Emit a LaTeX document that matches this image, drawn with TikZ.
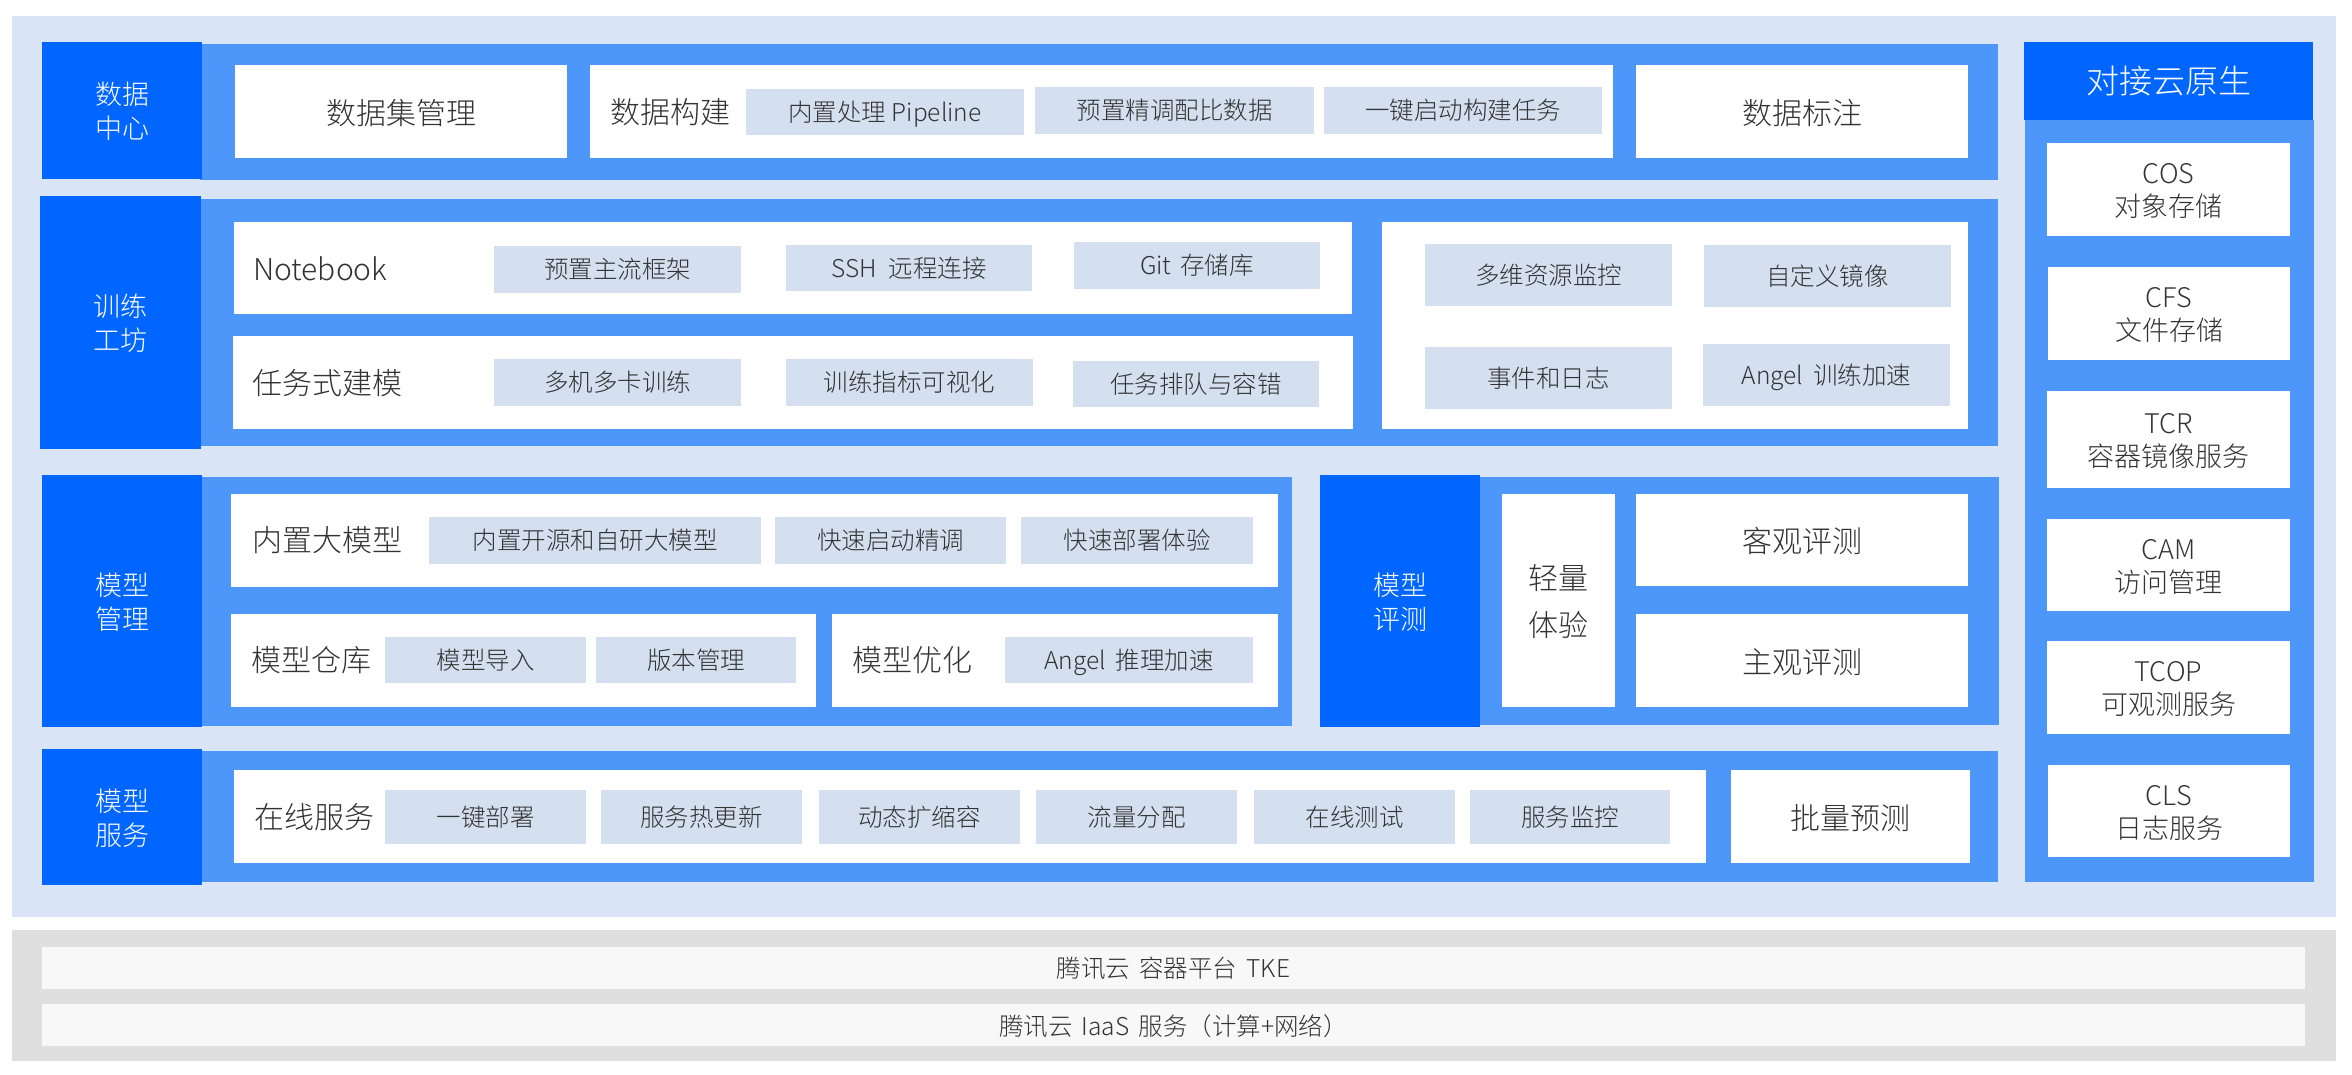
\documentclass[tikz,border=0pt]{standalone}
\usepackage{fontspec}
\setmainfont{Noto Sans CJK SC Light}
\definecolor{lightbg}{HTML}{D9E4F7}
\definecolor{band}{HTML}{4D97FA}
\definecolor{darkb}{HTML}{0066FF}
\definecolor{chipc}{HTML}{D4DFEF}
\definecolor{grayb}{HTML}{DFDFDF}
\definecolor{strip}{HTML}{F8F8F8}
\definecolor{ink}{HTML}{333333}
\newcommand{\fsz}[2]{\fontsize{#1}{#2}\selectfont}
\newcommand{\gapw}[1]{\hspace{#1pt}}
\tikzset{
  base/.style={inner sep=0pt,outer sep=0pt,draw=none},
  lightpanel/.style={base,fill=lightbg},
  bandpanel/.style={base,fill=band},
  headbox/.style={base,fill=darkb,text=white,font=\fsz{27}{34}},
  titlebox/.style={base,fill=darkb,text=white,font=\fsz{33}{38}},
  whitebox/.style={base,fill=white,text=ink,font=\fsz{30}{47}},
  sidebox/.style={base,fill=white,text=ink,font=\fsz{27}{33}},
  chipbox/.style={base,fill=chipc,text=ink,font=\fsz{24.5}{30}},
  graypanel/.style={base,fill=grayb},
  stripbox/.style={base,fill=strip,text=ink,font=\fsz{24.5}{30}},
  rowlabel/.style={base,anchor=west,text=ink,font=\fsz{30}{36}},
}
% \bx{style}{name}{x1}{y1}{x2}{y2}{drop}{text}
\newcommand{\bx}[8]{%
  \pgfmathsetmacro{\bxw}{#5-#3}\pgfmathsetmacro{\bxh}{#6-#4}%
  \pgfmathsetmacro{\bxx}{(#3+#5)/2}\pgfmathsetmacro{\bxy}{(#4+#6)/2}%
  \node[#1,minimum width=\bxw pt,minimum height=\bxh pt] (#2) at (\bxx,\bxy)
    {\raisebox{-#7pt}[\height][\depth]{\begin{tabular}{@{}c@{}}#8\end{tabular}}};}
\begin{document}
\begin{tikzpicture}[x=1pt,y=-1pt]
\useasboundingbox (0,0) rectangle (2352,1074);
\fill[white] (0,0) rectangle (2352,1074);
% panels
\bx{lightpanel}{outer}{12}{16}{2336}{917}{0}{}
\bx{graypanel}{grayouter}{12}{930}{2336}{1061}{0}{}
\bx{bandpanel}{band1}{200}{44}{1998}{180}{0}{}
\bx{bandpanel}{band2}{200}{199}{1998}{446}{0}{}
\bx{bandpanel}{band3a}{200}{477}{1292}{726}{0}{}
\bx{bandpanel}{band3b}{1480}{477}{1999}{725}{0}{}
\bx{bandpanel}{band4}{200}{751}{1998}{882}{0}{}
\bx{bandpanel}{bandside}{2025}{120}{2314}{882}{0}{}
% heads
\bx{headbox}{hdata}{42}{42}{202}{179}{4.5}{数据\\中心}
\bx{headbox}{htrain}{40}{196}{201}{449}{4.5}{训练\\工坊}
\bx{headbox}{hmodel}{42}{475}{202}{727}{4.5}{模型\\管理}
\bx{headbox}{heval}{1320}{475}{1480}{727}{4.5}{模型\\评测}
\bx{headbox}{hserve}{42}{749}{202}{885}{4.5}{模型\\服务}
\bx{titlebox}{hcloud}{2024}{42}{2313}{120}{4.5}{对接云原生}
% data row
\bx{whitebox}{w1}{235}{65}{567}{158}{3.5}{数据集管理}
\bx{whitebox}{w2}{590}{65}{1613}{158}{0}{}
\bx{whitebox}{w3}{1636}{65}{1968}{158}{3.5}{数据标注}
\node[rowlabel] (l1) at (610,112.5) {数据构建};
\bx{chipbox}{c11}{746}{89}{1024}{135}{3}{内置处理 Pipeline}
\bx{chipbox}{c12}{1035}{87}{1314}{134}{3}{预置精调配比数据}
\bx{chipbox}{c13}{1324}{87}{1602}{134}{3}{一键启动构建任务}
% training
\bx{whitebox}{w4}{234}{222}{1352}{314}{0}{}
\bx{whitebox}{w5}{233}{336}{1353}{429}{0}{}
\bx{whitebox}{w6}{1382}{222}{1968}{429}{0}{}
\node[rowlabel] (l2) at (253,268.5) {Notebook};
\node[rowlabel] (l3) at (252,383.5) {任务式建模};
\bx{chipbox}{c21}{494}{246}{741}{293}{3}{预置主流框架}
\bx{chipbox}{c22}{786}{245}{1032}{291}{3}{SSH\gapw{12}远程连接}
\bx{chipbox}{c23}{1074}{242}{1320}{289}{3}{Git\gapw{9}存储库}
\bx{chipbox}{c24}{494}{359}{741}{406}{3}{多机多卡训练}
\bx{chipbox}{c25}{786}{359}{1033}{406}{3}{训练指标可视化}
\bx{chipbox}{c26}{1073}{361}{1319}{407}{3}{任务排队与容错}
\bx{chipbox}{c27}{1425}{244}{1672}{306}{3}{多维资源监控}
\bx{chipbox}{c28}{1704}{245}{1951}{307}{3}{自定义镜像}
\bx{chipbox}{c29}{1425}{347}{1672}{409}{3}{事件和日志}
\bx{chipbox}{c30}{1703}{344}{1950}{406}{3}{Angel\gapw{10}训练加速}
% model
\bx{whitebox}{w7}{231}{494}{1278}{587}{0}{}
\bx{whitebox}{w8}{231}{614}{816}{707}{0}{}
\bx{whitebox}{w9}{832}{614}{1278}{707}{0}{}
\node[rowlabel] (l4) at (252,540.5) {内置大模型};
\node[rowlabel] (l5) at (251,660.5) {模型仓库};
\node[rowlabel] (l6) at (852,660.5) {模型优化};
\bx{chipbox}{c31}{429}{517}{761}{564}{3}{内置开源和自研大模型}
\bx{chipbox}{c32}{775}{517}{1006}{564}{3}{快速启动精调}
\bx{chipbox}{c33}{1021}{517}{1253}{564}{3}{快速部署体验}
\bx{chipbox}{c34}{385}{637}{586}{683}{3}{模型导入}
\bx{chipbox}{c35}{596}{637}{796}{683}{3}{版本管理}
\bx{chipbox}{c36}{1005}{637}{1253}{683}{3}{Angel\gapw{10}推理加速}
% evaluation
\bx{whitebox}{w10}{1502}{494}{1615}{707}{3.5}{轻量\\体验}
\bx{whitebox}{w11}{1636}{494}{1968}{586}{3.5}{客观评测}
\bx{whitebox}{w12}{1636}{614}{1968}{707}{3.5}{主观评测}
% service
\bx{whitebox}{w13}{234}{770}{1706}{863}{0}{}
\bx{whitebox}{w14}{1731}{770}{1970}{863}{3.5}{批量预测}
\node[rowlabel] (l7) at (254,817.5) {在线服务};
\bx{chipbox}{c41}{385}{790}{586}{844}{3}{一键部署}
\bx{chipbox}{c42}{601}{790}{802}{844}{3}{服务热更新}
\bx{chipbox}{c43}{819}{790}{1020}{844}{3}{动态扩缩容}
\bx{chipbox}{c44}{1036}{790}{1237}{844}{3}{流量分配}
\bx{chipbox}{c45}{1254}{790}{1455}{844}{3}{在线测试}
\bx{chipbox}{c46}{1470}{790}{1670}{844}{3}{服务监控}
% side column
\bx{sidebox}{s1}{2047}{143}{2290}{236}{4}{COS\\对象存储}
\bx{sidebox}{s2}{2048}{267}{2290}{360}{4}{CFS\\文件存储}
\bx{sidebox}{s3}{2047}{391}{2290}{488}{4}{TCR\\容器镜像服务}
\bx{sidebox}{s4}{2047}{519}{2290}{611}{4}{CAM\\访问管理}
\bx{sidebox}{s5}{2047}{641}{2290}{734}{4}{TCOP\\可观测服务}
\bx{sidebox}{s6}{2048}{765}{2290}{857}{4}{CLS\\日志服务}
% bottom strips
\bx{stripbox}{b1}{42}{947}{2305}{989}{3.5}{腾讯云\gapw{9}容器平台\gapw{9}TKE}
\bx{stripbox}{b2}{42}{1004}{2305}{1046}{4.5}{腾讯云\gapw{9}IaaS\gapw{9}服务（计算+网络）}
\end{tikzpicture}
\end{document}
